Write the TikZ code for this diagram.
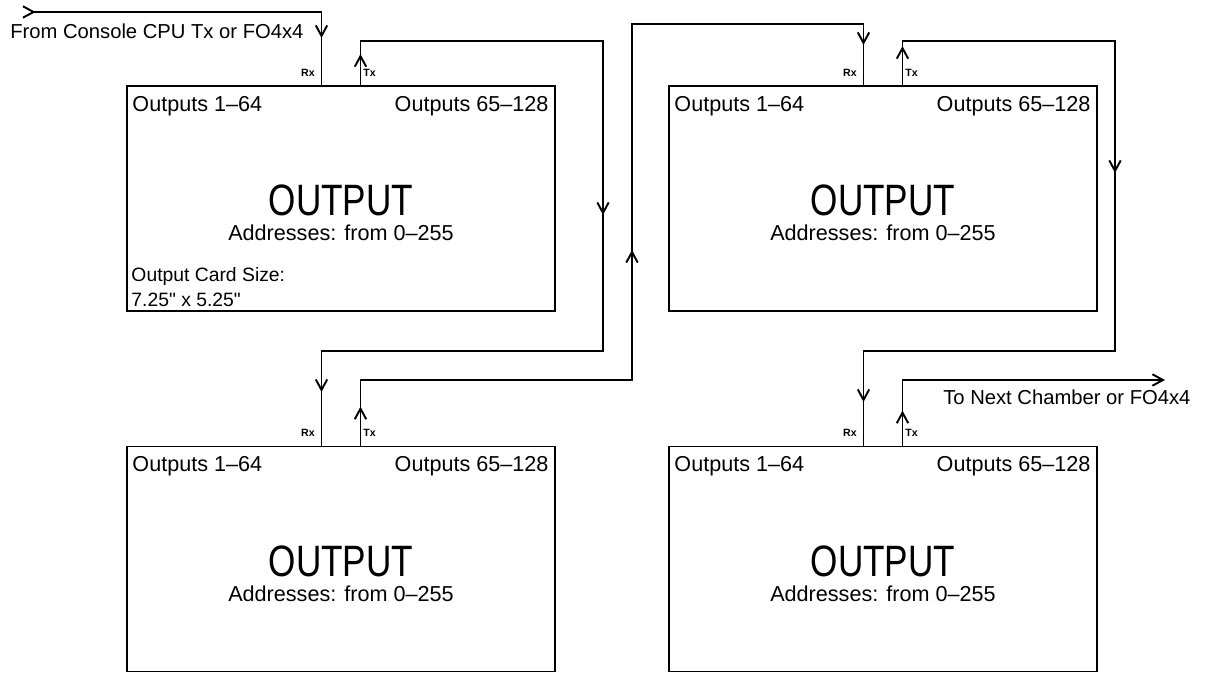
\documentclass[tikz,border=0pt]{standalone}
\usepackage{fontspec}
\setmainfont{Liberation Sans}
\newfontfamily\rawfont{Liberation Sans}[Ligatures=ResetAll]
\usepackage{graphicx}
\usetikzlibrary{arrows.meta, positioning}

\tikzset{
    card/.style={draw, line width=1pt, minimum width=8.56cm, minimum height=4.5cm, inner sep=0pt},
    wire/.style={line width=1.1pt},
    flow/.style={wire, -{Straight Barb[length=6pt, width=6.5pt]}},
    lbl/.style={inner sep=0pt, font=\fontsize{12.3}{14}\selectfont},
    note/.style={inner sep=0pt, font=\fontsize{11}{13}\selectfont},
    bigname/.style={inner sep=0pt, font=\fontsize{25}{30}\selectfont},
    portlbl/.style={inner sep=0pt, font=\fontsize{6}{7}\selectfont\bfseries},
}

\begin{document}
\begin{tikzpicture}
    \useasboundingbox (0,0) rectangle (24.18,13.46);

    % Output cards
    \node[card] (out1) at (6.82,9.49) {};
    \node[card] (out2) at (17.66,9.49) {};
    \node[card] (out3) at (6.82,2.28) {};
    \node[card] (out4) at (17.66,2.28) {};

    % Card texts and Rx/Tx ports
    \foreach \b in {1,...,4} {
        \node[lbl, anchor=base west] (lo\b) at ([xshift=0.12cm, yshift=-0.52cm]out\b.north west) {Outputs 1--64};
        \node[lbl, anchor=base east] (hi\b) at ([xshift=-0.14cm, yshift=-0.52cm]out\b.north east) {Outputs 65--128};
        \node[bigname, anchor=base] (name\b) at ([yshift=-0.35cm]out\b.center) {\scalebox{0.8}[1]{OUTPUT}};
        \node[lbl, anchor=base] (addr\b) at ([yshift=-0.85cm]out\b.center) {Addresses: from 0--255};
        \coordinate (rx\b) at ([xshift=-0.39cm]out\b.north);
        \coordinate (tx\b) at ([xshift=0.39cm]out\b.north);
        \node[portlbl, anchor=base east] (rxl\b) at ([xshift=-0.13cm, yshift=0.18cm]rx\b) {Rx};
        \node[portlbl, anchor=base west] (txl\b) at ([xshift=0.05cm, yshift=0.18cm]tx\b) {Tx};
    }

    % Card size note
    \node[note, anchor=base west] (size1) at ([xshift=0.1cm, yshift=0.6cm]out1.south west) {Output Card Size:};
    \node[note, anchor=base west] (size2) at ([xshift=0.1cm, yshift=0.11cm]out1.south west) {7.25{\rawfont"} x 5.25{\rawfont"}};

    % Bus corners
    \coordinate (src) at (0.44,13.22);
    \coordinate (bus1) at (12.06,12.64);
    \coordinate (bus2) at (12.06,6.44);
    \coordinate (bus3) at (12.64,5.86);
    \coordinate (bus4) at (12.64,12.98);
    \coordinate (bus5) at (22.30,12.64);
    \coordinate (bus6) at (22.30,6.44);
    \coordinate (dst) at (23.30,5.86);

    % Console into card 1
    \draw[wire, {Straight Barb[reversed, length=6pt, width=6.5pt]}-] (src) -| (rx1);
    \draw[flow] (rx1 |- src) -- ++(0,-0.52);
    \node[note, anchor=base west, font=\fontsize{11.5}{13}\selectfont] (srclbl) at (0.2,12.69) {From Console CPU Tx or FO4x4};

    % Card 1 Tx to card 3 Rx
    \draw[wire] (tx1) |- (bus1) -- (bus2) -| (rx3);
    \draw[flow] (tx1) -- ++(0,0.62);
    \draw[flow] (bus1) -- ++(0,-3.48);
    \draw[flow] (rx3 |- bus2) -- ++(0,-0.82);

    % Card 3 Tx to card 2 Rx
    \draw[wire] (tx3) |- (bus3) -- (bus4) -| (rx2);
    \draw[flow] (tx3) -- ++(0,0.78);
    \draw[flow] (bus3) -- ++(0,2.6);
    \draw[flow] (rx2 |- bus4) -- ++(0,-0.42);

    % Card 2 Tx to card 4 Rx
    \draw[wire] (tx2) |- (bus5) -- (bus6) -| (rx4);
    \draw[flow] (tx2) -- ++(0,0.78);
    \draw[flow] (bus5) -- ++(0,-2.64);
    \draw[flow] (rx4 |- bus6) -- ++(0,-1.02);

    % Card 4 Tx to next chamber
    \draw[flow] (tx4) |- (dst);
    \draw[flow] (tx4) -- ++(0,0.7);
    \node[note, anchor=base west, font=\fontsize{11.5}{13}\selectfont] (dstlbl) at (18.86,5.36) {To Next Chamber or FO4x4};
\end{tikzpicture}
\end{document}
